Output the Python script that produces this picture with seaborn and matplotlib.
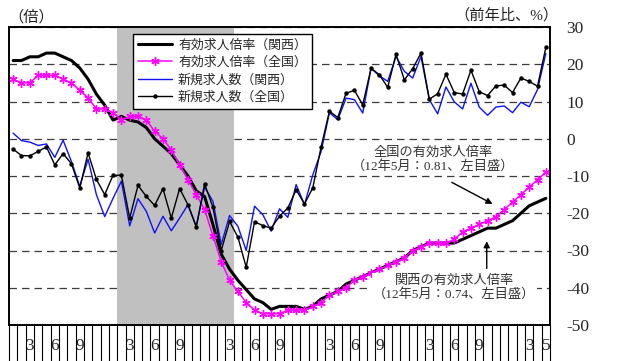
import numpy as np
import pandas as pd
import matplotlib
matplotlib.use("Agg")
import matplotlib.pyplot as plt
import seaborn as sns

# ---- data: Jan 2007 .. May 2012, monthly ----
month_index = list(range(65))
month_tick_pos = [2, 5, 8, 14, 17, 20, 26, 29, 32, 38, 41, 44, 50, 53, 56, 62, 64]
month_tick_labels = ["3", "6", "9", "3", "6", "9", "3", "6", "9",
                     "3", "6", "9", "3", "6", "9", "3", "5"]
recession_months = [13, 26]  # Feb 2008 .. Mar 2009

# jobs-to-applicants ratio (left axis, times)
ratio_kansai = [1.11, 1.11, 1.12, 1.12, 1.13, 1.13, 1.12, 1.11, 1.09, 1.06, 1.02, 0.99,
                0.95, 0.96, 0.95, 0.945, 0.93, 0.90, 0.88, 0.86, 0.83, 0.80, 0.76, 0.745,
                0.67, 0.59, 0.55, 0.52, 0.495, 0.47, 0.46, 0.442, 0.45, 0.45, 0.45, 0.442,
                0.45, 0.47, 0.48, 0.49, 0.51, 0.52, 0.53, 0.54, 0.55, 0.56, 0.57, 0.58,
                0.60, 0.61, 0.62, 0.62, 0.62, 0.62, 0.63, 0.64, 0.65, 0.66, 0.66, 0.67,
                0.68, 0.70, 0.72, 0.73, 0.74]
ratio_japan = [1.06, 1.05, 1.05, 1.07, 1.07, 1.07, 1.06, 1.05, 1.03, 1.01, 0.98, 0.98,
               0.97, 0.95, 0.96, 0.96, 0.95, 0.92, 0.90, 0.87, 0.83, 0.79, 0.75, 0.71,
               0.64, 0.57, 0.52, 0.49, 0.46, 0.44, 0.43, 0.43, 0.43, 0.44, 0.44, 0.44,
               0.45, 0.46, 0.48, 0.49, 0.50, 0.52, 0.53, 0.54, 0.55, 0.56, 0.57, 0.58,
               0.60, 0.61, 0.62, 0.62, 0.62, 0.63, 0.65, 0.66, 0.67, 0.68, 0.69, 0.71,
               0.73, 0.75, 0.77, 0.79, 0.81]

# new job openings, year-on-year % (right axis)
openings_kansai = [1.5, -0.5, -0.9, -1.8, -1.4, -5.0, -0.4, -6.1, -12.8, -5.5, -15.0, -20.9,
                   -16.0, -11.4, -23.4, -16.1, -19.5, -25.3, -20.8, -24.7, -21.3, -17.7, -23.5, -13.0,
                   -16.8, -28.4, -20.6, -23.5, -30.0, -18.1, -20.4, -24.8, -18.8, -21.1, -12.3, -17.7,
                   -9.7, -3.4, 7.0, 5.1, 10.9, 10.5, 6.9, 18.9, 16.9, 15.4, 22.1, 18.1,
                   16.3, 22.1, 10.5, 6.7, 13.9, 9.9, 8.0, 14.9, 8.5, 6.3, 8.5, 8.8,
                   7.0, 9.8, 8.6, 13.2, 22.9]
openings_japan = [-2.8, -4.5, -4.6, -3.4, -2.2, -7.0, -4.0, -6.7, -13.2, -3.8, -10.9, -15.0,
                  -9.8, -9.8, -21.3, -12.5, -15.5, -17.9, -13.4, -21.3, -13.4, -17.7, -23.7, -12.1,
                  -18.4, -30.0, -22.2, -26.4, -34.5, -22.3, -23.3, -24.0, -20.8, -18.6, -13.7, -17.5,
                  -13.2, -2.2, 7.4, 5.7, 12.2, 13.0, 9.1, 18.9, 17.2, 13.8, 22.7, 15.8,
                  18.8, 23.0, 10.6, 12.1, 17.3, 12.4, 12.0, 18.4, 12.6, 11.6, 14.2, 14.4,
                  12.4, 16.3, 15.4, 14.1, 24.5]

right_ticks = [30, 20, 10, 0, -10, -20, -30, -40, -50]
right_tick_labels = ["30", "20", "10", "0", "-10", "-20", "-30", "-40", "-50"]

series_labels = ["有効求人倍率（関西）", "有効求人倍率（全国）", "新規求人数（関西）", "新規求人数（全国）"]

df = pd.DataFrame({
    "month": month_index,
    "ratio_kansai": ratio_kansai,
    "ratio_japan": ratio_japan,
    "open_kansai": openings_kansai,
    "open_japan": openings_japan,
})

# ---- style ----
sns.set_theme(style="white")
plt.rcParams["font.family"] = ["Liberation Serif", "Noto Sans CJK JP"]
plt.rcParams["axes.unicode_minus"] = False

fig = plt.figure(figsize=(6.17, 3.61), dpi=100)
ax = fig.add_axes([9 / 617, 36 / 361, 541 / 617, 298 / 361])
ax2 = ax.twinx()

# recession shading and gridlines
ax.axvspan(recession_months[0] - 0.5, recession_months[1] + 0.5,
           color="#c0c0c0", lw=0, zorder=1)
ax.set_axisbelow(True)
ax.set_ylim(0.4, 1.2)
ax.set_yticks(np.arange(0.4, 1.201, 0.1))
ax.yaxis.grid(True, linestyle=(0, (6, 4)), color="#3c3c3c", lw=0.9)
ax.xaxis.grid(False)
ax.tick_params(axis="y", left=False, labelleft=False)

# ratios on the left axis
sns.lineplot(data=df, x="month", y="ratio_kansai", ax=ax, color="black",
             lw=2.2, label=series_labels[0], zorder=3)
sns.lineplot(data=df, x="month", y="ratio_japan", ax=ax, color="#ff00ff",
             lw=1.1, marker=(6, 2, 0), markersize=6, markeredgecolor="#ff00ff",
             markeredgewidth=1.0, label=series_labels[1], zorder=3)

# new openings on the right axis
sns.lineplot(data=df, x="month", y="open_kansai", ax=ax2, color="#1010ff",
             lw=1.0, label=series_labels[2], zorder=3)
sns.lineplot(data=df, x="month", y="open_japan", ax=ax2, color="black",
             lw=1.0, marker="o", markersize=3.2, markeredgewidth=0,
             label=series_labels[3], zorder=4)

ax2.set_ylim(-50, 30)
ax2.set_yticks(right_ticks)
ax2.set_yticklabels(right_tick_labels)
ax2.tick_params(axis="y", right=False, pad=6, labelsize=12.5)

# month axis: boundary lines and month numbers
ax.set_xlim(-0.5, 64.5)
ax.set_xticks(month_tick_pos)
ax.set_xticklabels(month_tick_labels)
ax.set_xticks(np.arange(-0.5, 65, 1), minor=True)
ax.tick_params(axis="x", which="major", length=0, pad=9, labelsize=12.5)
ax.tick_params(axis="x", which="minor", length=30, width=0.8, color="black",
               direction="out", bottom=True)

for a in (ax, ax2):
    a.set_xlabel("")
    a.set_ylabel("")
    for s in a.spines.values():
        s.set_color("black")
        s.set_linewidth(1.2)

# legend
h1, l1 = ax.get_legend_handles_labels()
h2, l2 = ax2.get_legend_handles_labels()
ax.get_legend().remove()
ax2.get_legend().remove()
leg = ax2.legend(h1 + h2, l1 + l2, loc="upper left",
                 bbox_to_anchor=(0.229, 0.9765), bbox_transform=ax.transAxes,
                 borderaxespad=0, frameon=True, fancybox=False, framealpha=1,
                 edgecolor="black", handlelength=2.6,
                 handletextpad=0.5, labelspacing=0.38, borderpad=0.4,
                 prop={"family": ["Liberation Serif", "Noto Sans CJK JP"], "size": 9.3})
leg.get_frame().set_linewidth(1.0)
leg.set_zorder(10)

# callouts
txt_col = "#333333"
box = dict(facecolor="white", edgecolor="none", pad=1.0)
ax2.text(50.5, -5.6, "全国の有効求人倍率\n（12年5月：0.81、左目盛）", ha="center",
         va="center", fontsize=9.5, color=txt_col, linespacing=1.15, zorder=6,
         bbox=box)
ax2.annotate("", xy=(57.6, -17.5), xytext=(52.7, -11.7),
             arrowprops=dict(arrowstyle="-|>", color="black", lw=1.0,
                             mutation_scale=9, shrinkA=0, shrinkB=0), zorder=6)
ax2.text(53.0, -40.0, "関西の有効求人倍率\n（12年5月：0.74、左目盛）", ha="center",
         va="center", fontsize=9.5, color=txt_col, linespacing=1.15, zorder=6,
         bbox=box)
ax2.annotate("", xy=(56.9, -27.5), xytext=(56.9, -34.8),
             arrowprops=dict(arrowstyle="-|>", color="black", lw=1.0,
                             mutation_scale=9, shrinkA=0, shrinkB=0), zorder=6)

# unit captions
fig.text(31 / 617, 1 - 17 / 361, "（倍）", ha="center", va="center",
         fontsize=11, color="#222222")
fig.text(506 / 617, 1 - 15 / 361, "（前年比、%）", ha="center", va="center",
         fontsize=11, color="#222222")

fig.savefig("out.png", dpi=100)
